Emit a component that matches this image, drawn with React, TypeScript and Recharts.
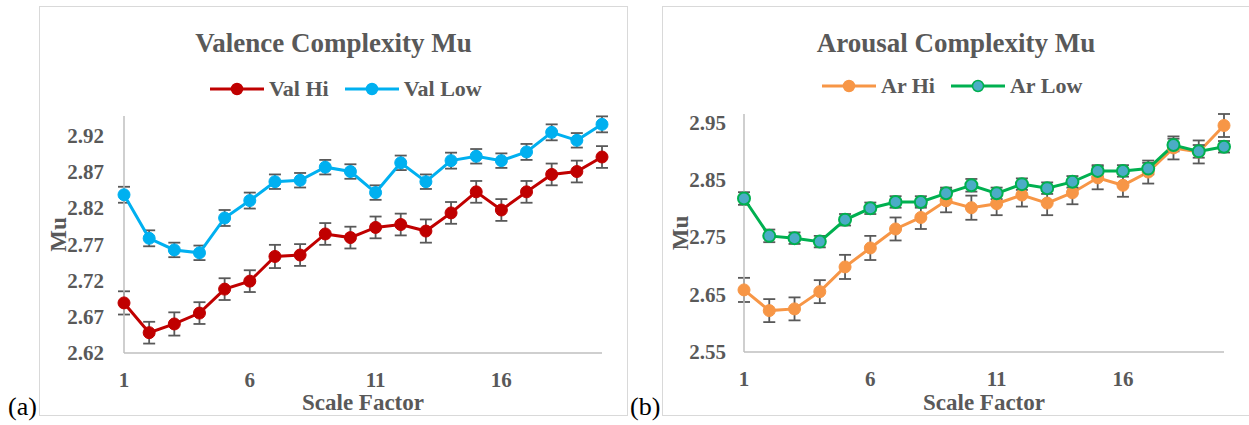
import React from 'react';
import { LineChart, Line, XAxis, YAxis, ErrorBar, Legend, Label } from 'recharts';

// scale factor 1..20 on the x axis
const scaleFactors = [1, 2, 3, 4, 5, 6, 7, 8, 9, 10, 11, 12, 13, 14, 15, 16, 17, 18, 19, 20];

const valHi = [2.689, 2.648, 2.66, 2.675, 2.708, 2.719, 2.753, 2.755, 2.784, 2.779, 2.793, 2.797, 2.788, 2.813, 2.842, 2.817, 2.842, 2.866, 2.87, 2.89];
const valHiErr = [0.016, 0.015, 0.016, 0.015, 0.015, 0.015, 0.016, 0.015, 0.015, 0.015, 0.015, 0.015, 0.016, 0.015, 0.015, 0.015, 0.015, 0.015, 0.015, 0.015];
const valLow = [2.838, 2.778, 2.762, 2.758, 2.806, 2.83, 2.856, 2.858, 2.876, 2.87, 2.841, 2.882, 2.856, 2.885, 2.891, 2.885, 2.897, 2.924, 2.913, 2.935];
const valLowErr = [0.011, 0.011, 0.01, 0.01, 0.011, 0.011, 0.01, 0.01, 0.01, 0.01, 0.01, 0.01, 0.01, 0.011, 0.01, 0.01, 0.011, 0.011, 0.01, 0.011];

const arHi = [2.658, 2.622, 2.625, 2.655, 2.698, 2.731, 2.764, 2.784, 2.813, 2.801, 2.808, 2.823, 2.809, 2.827, 2.853, 2.84, 2.863, 2.905, 2.898, 2.944];
const arHiErr = [0.021, 0.02, 0.02, 0.02, 0.021, 0.021, 0.02, 0.02, 0.02, 0.021, 0.02, 0.02, 0.021, 0.02, 0.02, 0.02, 0.02, 0.02, 0.02, 0.02];
const arLow = [2.817, 2.752, 2.748, 2.742, 2.78, 2.8, 2.811, 2.811, 2.826, 2.84, 2.826, 2.842, 2.835, 2.846, 2.865, 2.865, 2.869, 2.91, 2.899, 2.907];
const arLowErr = [0.011, 0.011, 0.01, 0.01, 0.01, 0.01, 0.01, 0.01, 0.01, 0.011, 0.01, 0.01, 0.01, 0.01, 0.01, 0.01, 0.01, 0.011, 0.011, 0.01];

const xTicks = [1, 6, 11, 16];
const valTicks = [2.62, 2.67, 2.72, 2.77, 2.82, 2.87, 2.92];
const arTicks = [2.55, 2.65, 2.75, 2.85, 2.95];

const valData = scaleFactors.map((sf, i) => ({
  sf,
  valHi: valHi[i],
  valHiErr: valHiErr[i],
  valLow: valLow[i],
  valLowErr: valLowErr[i],
}));

const arData = scaleFactors.map((sf, i) => ({
  sf,
  arHi: arHi[i],
  arHiErr: arHiErr[i],
  arLow: arLow[i],
  arLowErr: arLowErr[i],
}));

const FONT = '"Liberation Serif", "Times New Roman", serif';
const GREY = '#595959';
const AXIS = '#BFBFBF';

const tickStyle = { fill: GREY, fontSize: 21, fontWeight: 700, fontFamily: FONT };

type LegendItem = { name: string; color: string; fill: string };

const makeLegend = (items: LegendItem[]) => () => (
  <div style={{ display: 'flex', alignItems: 'center', fontFamily: FONT }}>
    {items.map((it, idx) => (
      <div key={it.name} style={{ display: 'flex', alignItems: 'center', marginRight: idx === 0 ? 16 : 0 }}>
        <svg width={54} height={14}>
          <line x1={0} y1={7} x2={54} y2={7} stroke={it.color} strokeWidth={3} />
          <circle cx={27} cy={7} r={5.5} fill={it.fill} stroke={it.color} strokeWidth={1.5} />
        </svg>
        <span style={{ marginLeft: 5, fontSize: 22, fontWeight: 700, color: GREY, lineHeight: '24px' }}>{it.name}</span>
      </div>
    ))}
  </div>
);

const yTitle = (cx: number) => (props: any) => {
  const vb = props.viewBox || {};
  const cy = vb.y + vb.height / 2;
  return (
    <text
      x={cx}
      y={cy}
      transform={`rotate(-90 ${cx} ${cy})`}
      textAnchor="middle"
      dominantBaseline="central"
      fill={GREY}
      fontSize={23}
      fontWeight={700}
      fontFamily={FONT}
    >
      Mu
    </text>
  );
};

const Panel: React.FC<{
  left: number;
  width: number;
  title: string;
  tag: string;
  tagLeft: number;
  children: React.ReactNode;
}> = ({ left, width, title, tag, tagLeft, children }) => (
  <>
    <div
      style={{
        position: 'absolute',
        left,
        top: 6,
        width,
        height: 410,
        border: '1px solid #D9D9D9',
        borderRight: left > 600 ? 'none' : '1px solid #D9D9D9',
        boxSizing: 'border-box',
        background: '#fff',
      }}
    >
      <div
        style={{
          position: 'absolute',
          top: 23,
          left: 0,
          width: '100%',
          textAlign: 'center',
          fontFamily: FONT,
          fontWeight: 700,
          fontSize: 27,
          lineHeight: '27px',
          color: GREY,
        }}
      >
        {title}
      </div>
      {children}
    </div>
    <div
      style={{
        position: 'absolute',
        left: tagLeft,
        top: 394,
        fontFamily: FONT,
        fontSize: 26,
        lineHeight: '26px',
        color: '#000',
      }}
    >
      {tag}
    </div>
  </>
);

export default function App() {
  return (
    <div style={{ position: 'absolute', left: 0, top: 0, width: 1249, height: 425, background: '#fff', overflow: 'hidden' }}>
      <Panel left={39} width={589} title="Valence Complexity Mu" tag="(a)" tagLeft={8}>
        <LineChart width={589} height={410} data={valData} margin={{ top: 109, right: 27, bottom: 0, left: 0 }}>
          <XAxis
            dataKey="sf"
            type="number"
            domain={[1, 20]}
            ticks={xTicks}
            height={64}
            axisLine={{ stroke: AXIS, strokeWidth: 1.5 }}
            tickLine={false}
            tickSize={8}
            tickMargin={11}
            tick={tickStyle}
          >
            <Label value="Scale Factor" position="insideBottom" offset={7} fill={GREY} fontSize={23} fontWeight={700} fontFamily={FONT} />
          </XAxis>
          <YAxis
            type="number"
            domain={[2.62, 2.9465]}
            ticks={valTicks}
            width={84}
            axisLine={{ stroke: AXIS, strokeWidth: 1.5 }}
            tickLine={false}
            tickSize={8}
            tickMargin={12}
            tick={tickStyle}
            tickFormatter={(v: number) => v.toFixed(2)}
          >
            <Label content={yTitle(18)} />
          </YAxis>
          <Legend
            layout="horizontal"
            verticalAlign="middle"
            align="center"
            wrapperStyle={{ top: 70, left: 170, width: 'auto', height: 'auto' }}
            content={makeLegend([
              { name: 'Val Hi', color: '#C00000', fill: '#C00000' },
              { name: 'Val Low', color: '#00B0F0', fill: '#00B0F0' },
            ])}
          />
          <Line
            dataKey="valHi"
            name="Val Hi"
            stroke="#C00000"
            strokeWidth={3}
            dot={{ r: 6, fill: '#C00000', stroke: '#C00000', strokeWidth: 1 }}
            isAnimationActive={false}
          >
            <ErrorBar dataKey="valHiErr" direction="y" width={6} stroke={GREY} strokeWidth={1.8} isAnimationActive={false} />
          </Line>
          <Line
            dataKey="valLow"
            name="Val Low"
            stroke="#00B0F0"
            strokeWidth={3}
            dot={{ r: 6, fill: '#00B0F0', stroke: '#00B0F0', strokeWidth: 1 }}
            isAnimationActive={false}
          >
            <ErrorBar dataKey="valLowErr" direction="y" width={6} stroke={GREY} strokeWidth={1.8} isAnimationActive={false} />
          </Line>
        </LineChart>
      </Panel>

      <Panel left={662} width={587} title="Arousal Complexity Mu" tag="(b)" tagLeft={630}>
        <LineChart width={587} height={411} data={arData} margin={{ top: 107, right: 26, bottom: 0, left: 0 }}>
          <XAxis
            dataKey="sf"
            type="number"
            domain={[1, 20]}
            ticks={xTicks}
            height={66}
            axisLine={{ stroke: AXIS, strokeWidth: 1.5 }}
            tickLine={false}
            tickSize={8}
            tickMargin={11}
            tick={tickStyle}
          >
            <Label value="Scale Factor" position="insideBottom" offset={8} fill={GREY} fontSize={23} fontWeight={700} fontFamily={FONT} />
          </XAxis>
          <YAxis
            type="number"
            domain={[2.55, 2.95]}
            ticks={arTicks}
            width={81}
            axisLine={{ stroke: AXIS, strokeWidth: 1.5 }}
            tickLine={false}
            tickSize={8}
            tickMargin={10}
            tick={tickStyle}
            tickFormatter={(v: number) => v.toFixed(2)}
          >
            <Label content={yTitle(17)} />
          </YAxis>
          <Legend
            layout="horizontal"
            verticalAlign="middle"
            align="center"
            wrapperStyle={{ top: 67, left: 159, width: 'auto', height: 'auto' }}
            content={makeLegend([
              { name: 'Ar Hi', color: '#F79646', fill: '#F79646' },
              { name: 'Ar Low', color: '#00B050', fill: '#4BACC6' },
            ])}
          />
          <Line
            dataKey="arHi"
            name="Ar Hi"
            stroke="#F79646"
            strokeWidth={3}
            dot={{ r: 6, fill: '#F79646', stroke: '#F79646', strokeWidth: 1 }}
            isAnimationActive={false}
          >
            <ErrorBar dataKey="arHiErr" direction="y" width={6} stroke={GREY} strokeWidth={1.8} isAnimationActive={false} />
          </Line>
          <Line
            dataKey="arLow"
            name="Ar Low"
            stroke="#00B050"
            strokeWidth={3}
            dot={{ r: 6, fill: '#4BACC6', stroke: '#00B050', strokeWidth: 2 }}
            isAnimationActive={false}
          >
            <ErrorBar dataKey="arLowErr" direction="y" width={6} stroke={GREY} strokeWidth={1.8} isAnimationActive={false} />
          </Line>
        </LineChart>
      </Panel>
    </div>
  );
}
